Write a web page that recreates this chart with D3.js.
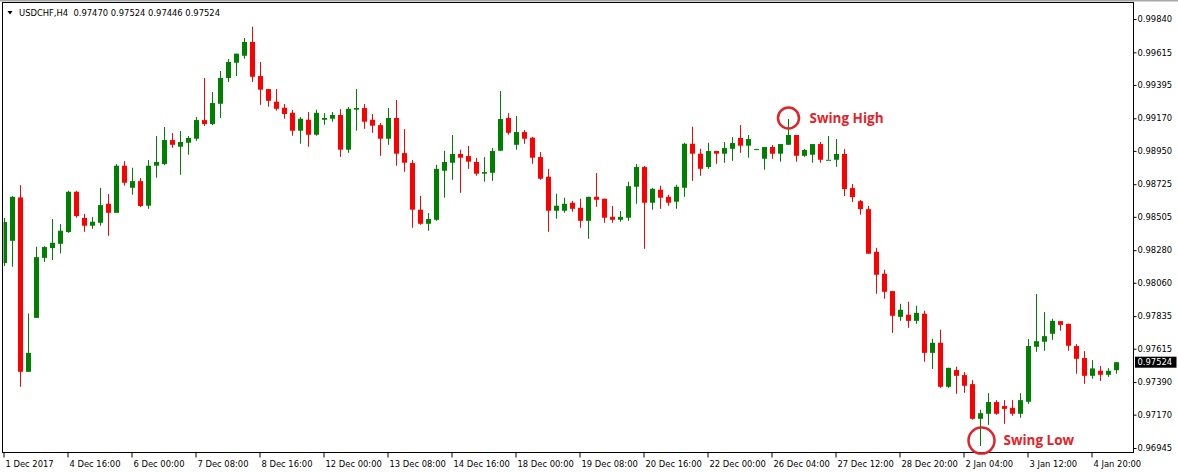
<!DOCTYPE html>
<html><head><meta charset="utf-8">
<script src="https://cdn.jsdelivr.net/npm/d3@7"></script>
<style>body{margin:0;background:#fff}svg{display:block}</style>
</head><body><svg id="c" width="1178" height="472"></svg>
<script>
const symbolTitle = "USDCHF,H4";
const opens = [
0.98193,0.98343,0.98636,0.97459,0.97823,0.98228,0.98294,0.98323,0.98402,0.98674,
0.98497,0.98445,0.98465,0.98593,0.98532,0.98850,0.98701,0.98746,0.98580,0.98850,
0.98861,0.99023,0.98978,0.99005,0.99032,0.99158,0.99131,0.99268,0.99442,0.99545,
0.99592,0.99685,0.99455,0.99367,0.99282,0.99241,0.99207,0.99086,0.99160,0.99059,
0.99160,0.99167,0.99192,0.98958,0.99228,0.99239,0.99160,0.99124,0.99032,0.99172,
0.98935,0.98868,0.98553,0.98458,0.98485,0.98816,0.98870,0.98929,0.98915,0.98875,
0.98796,0.98802,0.98951,0.99172,0.98991,0.99077,0.99039,0.98908,0.98775,0.98546,
0.98546,0.98600,0.98566,0.98478,0.98640,0.98627,0.98505,0.98485,0.98499,0.98708,
0.98841,0.98600,0.98688,0.98640,0.98607,0.98701,0.98998,0.98931,0.98841,0.98949,
0.98931,0.98964,0.99037,0.98985,0.98962,0.98897,0.98976,0.98931,0.98991,0.99057,
0.98917,0.98924,0.98996,0.98890,0.98890,0.98929,0.98699,0.98611,0.98557,0.98269,
0.98121,0.98004,0.97830,0.97844,0.97803,0.97851,0.97587,0.97655,0.97358,0.97471,
0.97437,0.97376,0.97142,0.97176,0.97255,0.97228,0.97216,0.97176,0.97257,0.97628,
0.97662,0.97716,0.97801,0.97783,0.97633,0.97552,0.97432,0.97466,0.97439,0.97470];
const highs = [
0.98497,0.98645,0.98719,0.97853,0.98303,0.98307,0.98490,0.98456,0.98681,0.98681,
0.98524,0.98503,0.98701,0.98659,0.98861,0.98881,0.98836,0.98767,0.98888,0.99050,
0.99111,0.99070,0.99084,0.99050,0.99178,0.99442,0.99347,0.99489,0.99570,0.99606,
0.99712,0.99788,0.99550,0.99367,0.99367,0.99266,0.99226,0.99178,0.99212,0.99228,
0.99205,0.99212,0.99232,0.99246,0.99367,0.99266,0.99199,0.99138,0.99239,0.99293,
0.99097,0.98888,0.98647,0.98530,0.98856,0.98951,0.99057,0.98958,0.98983,0.98902,
0.98908,0.98969,0.99354,0.99205,0.99185,0.99091,0.99045,0.98942,0.98829,0.98661,
0.98634,0.98613,0.98627,0.98640,0.98800,0.98627,0.98578,0.98544,0.98742,0.98861,
0.98848,0.98701,0.98715,0.98654,0.98721,0.99005,0.99113,0.98964,0.99005,0.98949,
0.99010,0.99043,0.99124,0.99057,0.98963,0.98976,0.98989,0.98996,0.99165,0.99057,
0.98962,0.98996,0.99010,0.99050,0.99030,0.98962,0.98726,0.98618,0.98578,0.98296,
0.98148,0.98004,0.97918,0.97932,0.97905,0.97871,0.97682,0.97743,0.97486,0.97493,
0.97457,0.97403,0.97203,0.97315,0.97268,0.97268,0.97268,0.97315,0.97680,0.97984,
0.97862,0.97817,0.97801,0.97783,0.97646,0.97599,0.97538,0.97498,0.97484,0.97524];
const lows = [
0.98173,0.98168,0.97358,0.97459,0.97823,0.98201,0.98213,0.98258,0.98397,0.98499,
0.98404,0.98424,0.98445,0.98377,0.98532,0.98715,0.98654,0.98571,0.98559,0.98769,
0.98854,0.98971,0.98789,0.98924,0.99018,0.99118,0.99124,0.99172,0.99415,0.99455,
0.99572,0.99415,0.99261,0.99248,0.99221,0.99167,0.99052,0.98998,0.98978,0.99052,
0.99126,0.99147,0.98910,0.98937,0.99086,0.99099,0.99072,0.98917,0.98991,0.98850,
0.98809,0.98431,0.98451,0.98411,0.98478,0.98634,0.98755,0.98667,0.98829,0.98782,
0.98742,0.98748,0.98951,0.99059,0.98958,0.98998,0.98863,0.98755,0.98404,0.98492,
0.98532,0.98539,0.98431,0.98357,0.98573,0.98465,0.98465,0.98472,0.98478,0.98593,
0.98289,0.98553,0.98559,0.98580,0.98559,0.98640,0.98748,0.98782,0.98829,0.98863,
0.98870,0.98883,0.98937,0.98904,0.98961,0.98823,0.98897,0.98877,0.98991,0.98877,
0.98910,0.98870,0.98870,0.98890,0.98843,0.98645,0.98605,0.98519,0.98256,0.97986,
0.97952,0.97722,0.97803,0.97756,0.97783,0.97527,0.97479,0.97351,0.97351,0.97311,
0.97317,0.97136,0.96958,0.97101,0.97169,0.97108,0.97162,0.97149,0.97243,0.97594,
0.97601,0.97675,0.97736,0.97601,0.97446,0.97378,0.97412,0.97398,0.97425,0.97446];
const closes = [
0.98470,0.98640,0.97459,0.97587,0.98233,0.98301,0.98330,0.98411,0.98674,0.98510,
0.98445,0.98472,0.98584,0.98532,0.98850,0.98735,0.98746,0.98578,0.98850,0.98875,
0.99023,0.98991,0.99010,0.99037,0.99158,0.99131,0.99273,0.99442,0.99550,0.99606,
0.99685,0.99450,0.99363,0.99288,0.99234,0.99199,0.99086,0.99167,0.99059,0.99207,
0.99172,0.99192,0.98958,0.99234,0.99239,0.99147,0.99120,0.99032,0.99172,0.98931,
0.98870,0.98553,0.98458,0.98490,0.98829,0.98875,0.98929,0.98904,0.98877,0.98796,
0.98807,0.98949,0.99165,0.99072,0.99077,0.99032,0.98904,0.98762,0.98546,0.98580,
0.98593,0.98559,0.98478,0.98640,0.98620,0.98499,0.98485,0.98505,0.98712,0.98841,
0.98600,0.98694,0.98634,0.98600,0.98708,0.98998,0.98931,0.98829,0.98949,0.98931,
0.98969,0.99003,0.98985,0.99030,0.98962,0.98976,0.98931,0.98996,0.99057,0.98917,
0.98956,0.98996,0.98890,0.98890,0.98929,0.98692,0.98638,0.98557,0.98256,0.98114,
0.97999,0.97837,0.97878,0.97803,0.97857,0.97587,0.97655,0.97358,0.97486,0.97432,
0.97365,0.97142,0.97180,0.97255,0.97176,0.97209,0.97176,0.97268,0.97633,0.97666,
0.97700,0.97803,0.97776,0.97635,0.97547,0.97432,0.97482,0.97439,0.97466,0.97524];
const priceTicks = [0.99840,0.99615,0.99395,0.99170,0.98950,0.98725,0.98505,0.98280,0.98060,0.97835,0.97615,0.97390,0.97170,0.96945];
const timeLabels = ["1 Dec 2017","4 Dec 16:00","6 Dec 00:00","7 Dec 08:00","8 Dec 16:00","12 Dec 00:00","13 Dec 08:00","14 Dec 16:00","18 Dec 00:00","19 Dec 08:00","20 Dec 16:00","22 Dec 00:00","26 Dec 04:00","27 Dec 12:00","28 Dec 20:00","2 Jan 04:00","3 Jan 12:00","4 Jan 20:00"];
const labelEvery = 8;
const swingHighIndex = 98, swingLowIndex = 122;

const W = 1178, H = 472;
const plot = {left: 2.5, top: 2.5, right: 1133.5, bottom: 452.5};
const GREEN = "#008000", RED = "#ff0000";
const n = opens.length;
const svg = d3.select("#c");
svg.append("rect").attr("width", W).attr("height", H).attr("fill", "#fff");
svg.append("rect").attr("x", 0).attr("y", 0).attr("width", W).attr("height", 1.5).attr("fill", "#a8a8a8");

const x = d3.scaleLinear().domain([0, n - 1]).range([4.5, 4.5 + 8 * (n - 1)]);
const y = d3.scaleLinear().domain([0.96945, 0.99840]).range([448, 19]);

svg.append("defs").append("clipPath").attr("id", "pc")
  .append("rect").attr("x", plot.left + 1).attr("y", plot.top + 0.5)
  .attr("width", plot.right - plot.left - 1.5).attr("height", plot.bottom - plot.top - 1);

const data = d3.range(n).map(i => ({i, o: opens[i], h: highs[i], l: lows[i], c: closes[i]}));
const g = svg.append("g").attr("clip-path", "url(#pc)");
const col = d => d.c >= d.o ? GREEN : RED;
g.selectAll("line.w").data(data).join("line").attr("class", "w")
  .attr("x1", d => x(d.i)).attr("x2", d => x(d.i))
  .attr("y1", d => y(d.h)).attr("y2", d => y(d.l))
  .attr("stroke", col).attr("stroke-width", 1);
g.selectAll("rect.b").data(data).join("rect").attr("class", "b")
  .attr("x", d => x(d.i) - 2.5).attr("width", 5)
  .attr("y", d => Math.min(y(d.o), y(d.c)))
  .attr("height", d => Math.max(1, Math.abs(y(d.o) - y(d.c))))
  .attr("fill", col);

// frame
svg.append("rect").attr("x", plot.left).attr("y", plot.top)
  .attr("width", plot.right - plot.left).attr("height", plot.bottom - plot.top)
  .attr("fill", "none").attr("stroke", "#000").attr("stroke-width", 1);

// right price axis
const yAxis = d3.axisRight(y).tickValues(priceTicks).tickSize(3).tickPadding(1)
  .tickFormat(d3.format(".5f"));
const ya = svg.append("g").attr("transform", `translate(${plot.right},0)`).call(yAxis);
ya.select(".domain").remove();
ya.selectAll("text").attr("font-family", "DejaVu Sans").attr("font-size", 8.4).attr("fill", "#000");

// bottom time axis
const tIdx = timeLabels.map((_, k) => k * labelEvery);
const xa = svg.append("g").attr("transform", `translate(0,${plot.bottom})`);
xa.selectAll("line").data(tIdx).join("line")
  .attr("x1", d => x(d) - 0.5).attr("x2", d => x(d) - 0.5).attr("y1", 0).attr("y2", 5)
  .attr("stroke", "#000");
xa.selectAll("text").data(tIdx).join("text")
  .attr("x", d => x(d) + 1).attr("y", 14.5)
  .attr("font-family", "DejaVu Sans").attr("font-size", 8.4).attr("fill", "#000")
  .text((d, k) => timeLabels[k]);

// current price label
const last = closes[n - 1];
const pl = svg.append("g").attr("transform", `translate(${plot.right + 1.5},${y(last)})`);
pl.append("rect").attr("x", 0).attr("y", -5.5).attr("width", 41.5).attr("height", 11).attr("fill", "#000");
pl.append("text").attr("x", 2.5).attr("y", 0).attr("dy", "0.35em")
  .attr("font-family", "DejaVu Sans").attr("font-size", 8.4).attr("fill", "#fff")
  .text(d3.format(".5f")(last));

// header
const hd = svg.append("g");
hd.append("path").attr("d", "M7.5,11 L12.5,11 L10,14.5 Z").attr("fill", "#000");
hd.append("text").attr("x", 19).attr("y", 16).attr("font-family", "DejaVu Sans").attr("font-size", 8.4)
  .attr("fill", "#000").attr("xml:space", "preserve")
  .text(`${symbolTitle}  ${d3.format(".5f")(opens[n-1])} ${d3.format(".5f")(highs[n-1])} ${d3.format(".5f")(lows[n-1])} ${d3.format(".5f")(closes[n-1])}`);

// annotations
const ANN = "#e2232a";
const sh = svg.append("g");
sh.append("circle").attr("cx", x(swingHighIndex)).attr("cy", y(highs[swingHighIndex]) - 1).attr("r", 10.5)
  .attr("fill", "none").attr("stroke", ANN).attr("stroke-width", 2.5);
sh.append("text").attr("x", x(swingHighIndex) + 21).attr("y", y(highs[swingHighIndex]) + 4)
  .attr("font-family", "Open Sans").attr("font-weight", 700).attr("font-size", 13.5).attr("fill", ANN)
  .text("Swing High");
const sl = svg.append("g");
sl.append("circle").attr("cx", x(swingLowIndex) + 1).attr("cy", y(lows[swingLowIndex]) - 5.5).attr("r", 13)
  .attr("fill", "none").attr("stroke", ANN).attr("stroke-width", 2.5);
sl.append("text").attr("x", x(swingLowIndex) + 23).attr("y", y(lows[swingLowIndex]) - 1.5)
  .attr("font-family", "Open Sans").attr("font-weight", 700).attr("font-size", 13.5).attr("fill", ANN)
  .text("Swing Low");
</script></body></html>
